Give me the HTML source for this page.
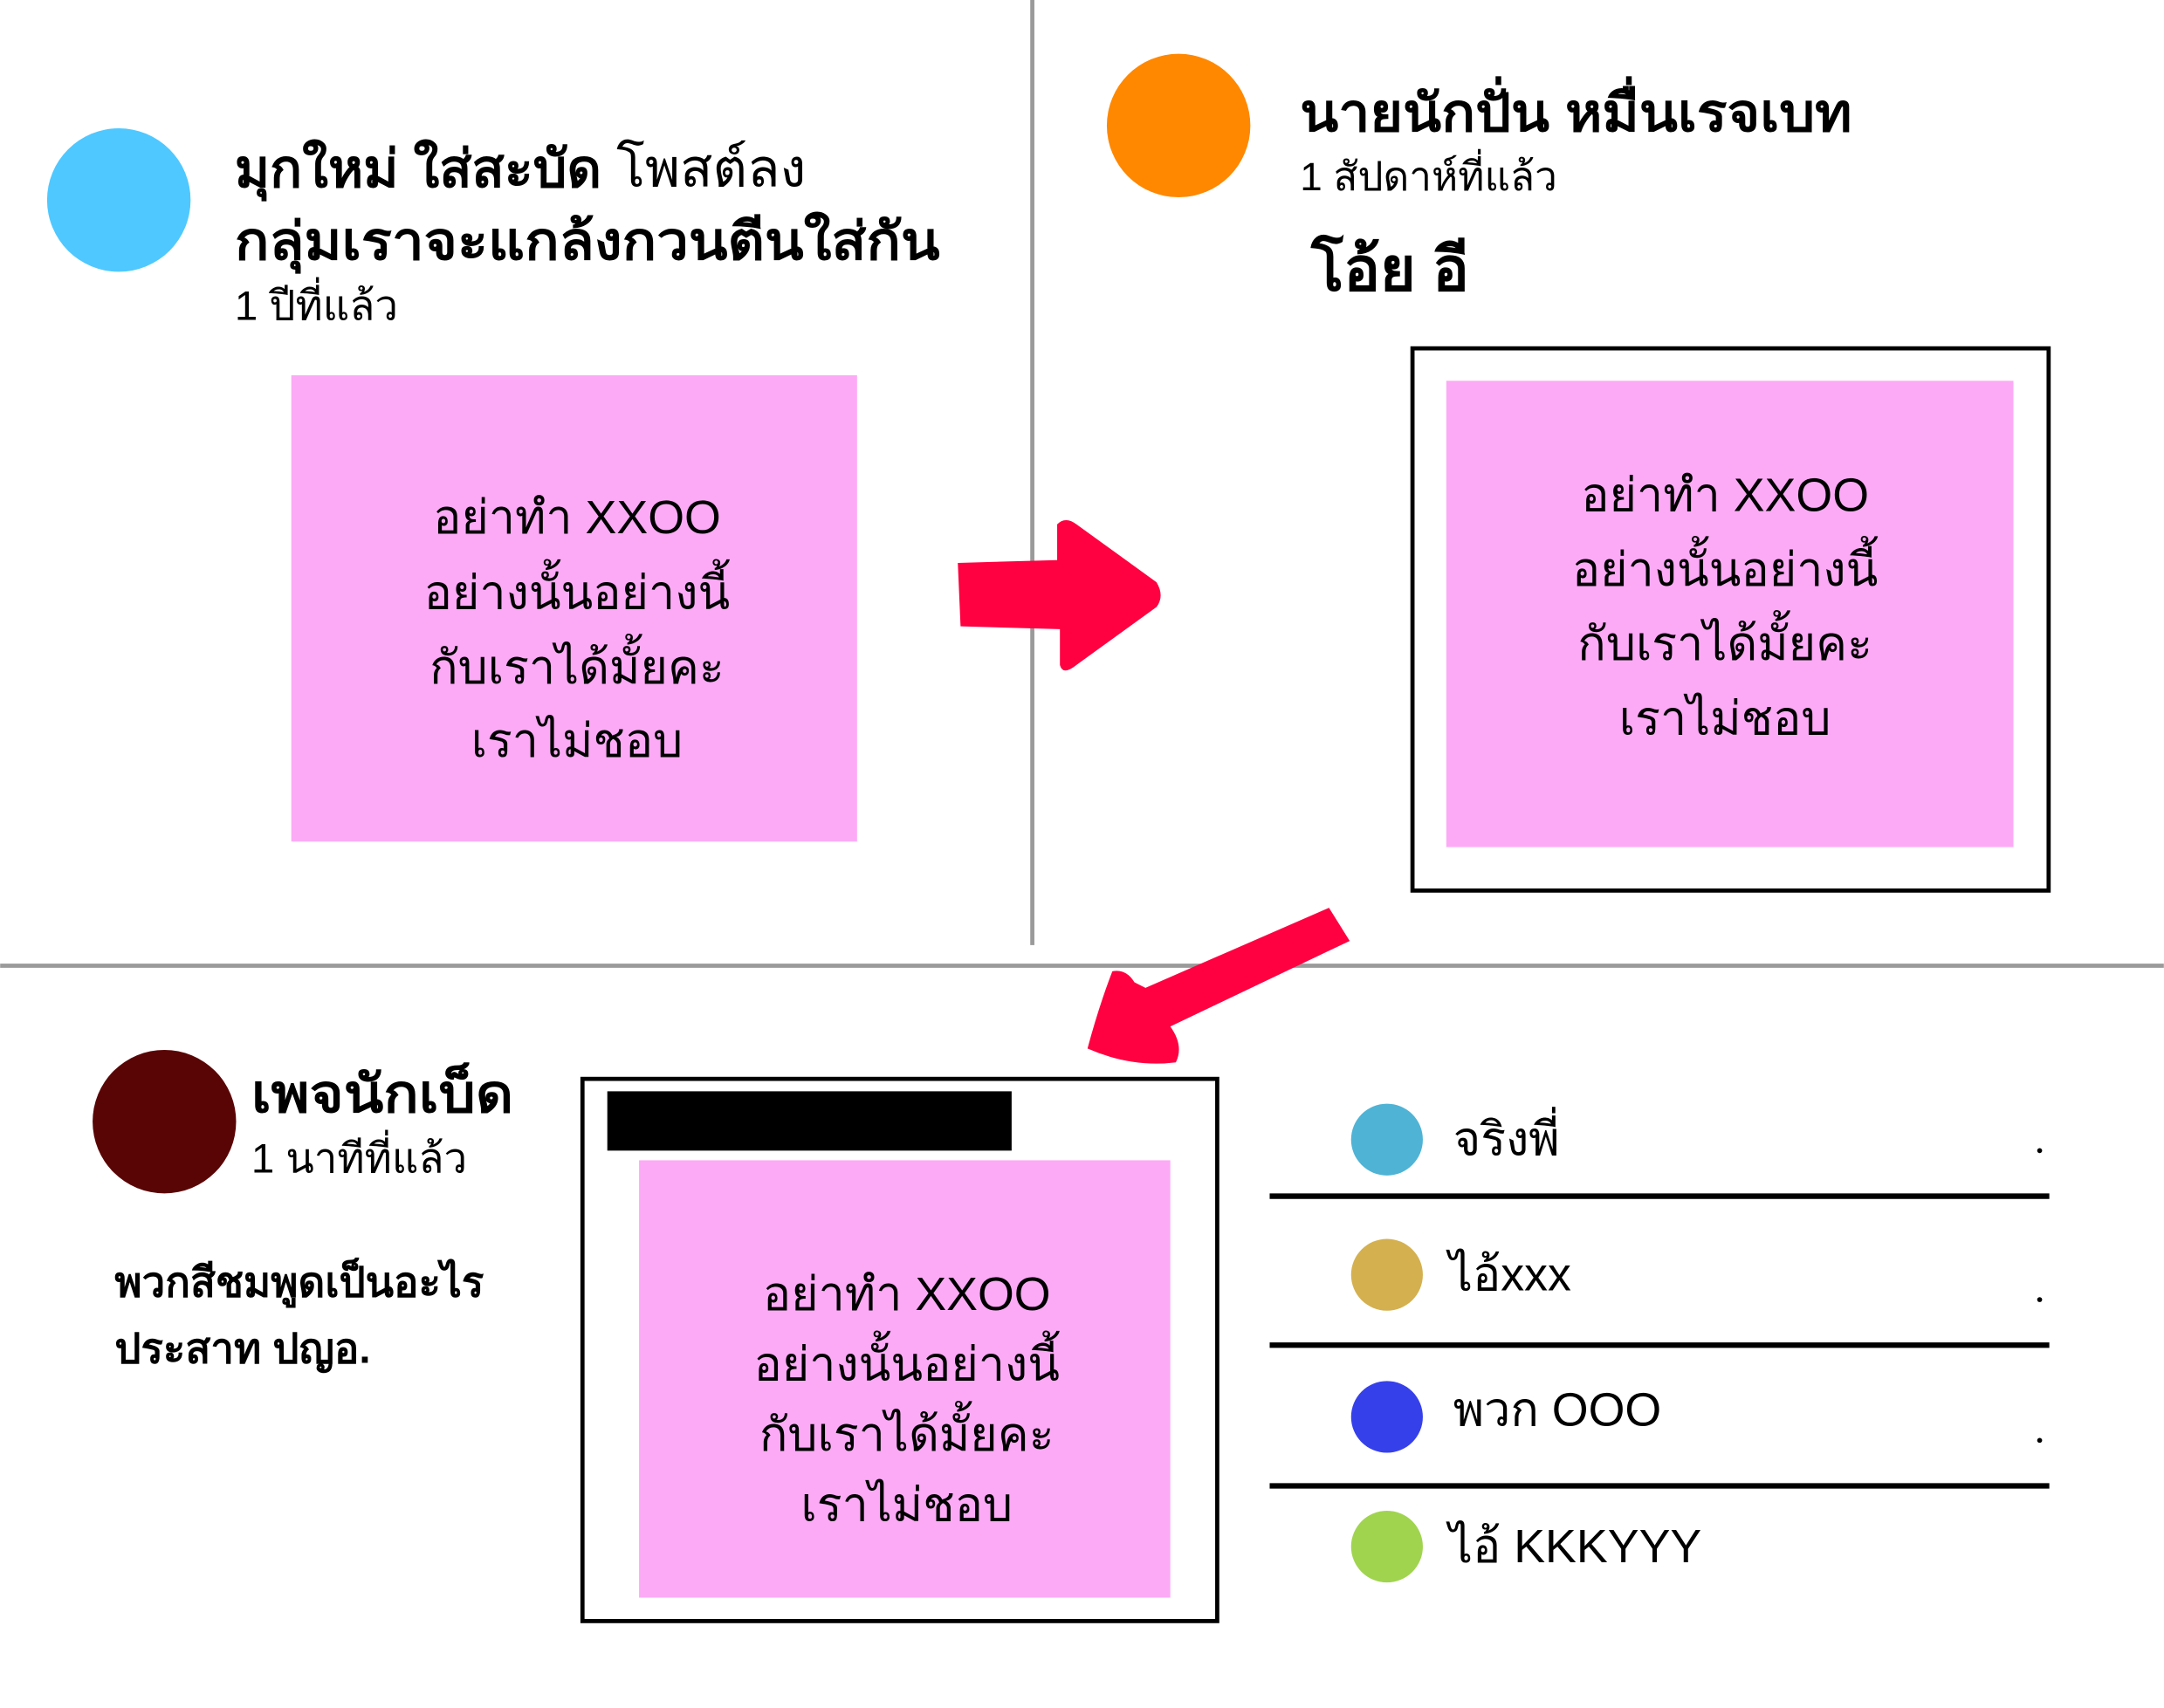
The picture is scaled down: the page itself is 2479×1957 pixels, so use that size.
<!DOCTYPE html>
<html><head><meta charset="utf-8"><style>
html,body{margin:0;padding:0;background:#fff;}
svg{display:block;}
text{font-family:"Liberation Sans","DejaVu Sans",sans-serif;fill:#000;dominant-baseline:central;}
.b{font-weight:bold;}
.c{text-anchor:middle;}
</style></head><body>
<svg width="2479" height="1957" viewBox="0 0 1568 1238" xmlns="http://www.w3.org/2000/svg">
<rect width="1568" height="1238" fill="#fff"/>
<line x1="748" y1="0" x2="748" y2="685" stroke="#9a9a9a" stroke-width="3"/>
<line x1="0" y1="700" x2="1568" y2="700" stroke="#9a9a9a" stroke-width="3"/>

<ellipse cx="86" cy="145" rx="52" ry="52" fill="#4fc8ff"/>
<text x="170" y="122" font-size="38" textLength="414" lengthAdjust="spacingAndGlyphs"><tspan class="b">มุกใหม่ ใส่สะบัด</tspan> โพสต์ลง</text>
<text x="170" y="175" font-size="38" class="b" textLength="511" lengthAdjust="spacingAndGlyphs">กลุ่มเราจะแกล้งกวนตีนใส่กัน</text>
<text x="170" y="222" font-size="30">1 ปีที่แล้ว</text>
<rect x="211" y="272" width="410" height="338" fill="#fcaaf6"/>
<text x="418" y="375" font-size="34" class="c">อย่าทำ XXOO</text>
<text x="418" y="430" font-size="34" class="c">อย่างนั้นอย่างนี้</text>
<text x="418" y="484" font-size="34" class="c">กับเราได้มั้ยคะ</text>
<text x="418" y="537" font-size="34" class="c">เราไม่ชอบ</text>

<path d="M694,408 L766,406 L766,380 Q772,374 780,380 L838,422 Q844,432 838,440 L780,482 Q770,490 768,482 L768,456 L696,454 Z" fill="#ff0040"/>

<circle cx="854" cy="91" r="52" fill="#ff8800"/>
<text x="942" y="82" font-size="38" class="b" textLength="400" lengthAdjust="spacingAndGlyphs">นายนักปั่น หมื่นเรจเบท</text>
<text x="942" y="128" font-size="29">1 สัปดาห์ที่แล้ว</text>
<text x="950" y="195" font-size="44" class="b">โอ้ย อี</text>
<rect x="1023.5" y="252.5" width="461" height="393" fill="none" stroke="#000" stroke-width="3"/>
<rect x="1048" y="276" width="411" height="338" fill="#fcaaf6"/>
<text x="1250" y="359" font-size="34" class="c">อย่าทำ XXOO</text>
<text x="1250" y="413" font-size="34" class="c">อย่างนั้นอย่างนี้</text>
<text x="1250" y="467" font-size="34" class="c">กับเราได้มั้ยคะ</text>
<text x="1250" y="521" font-size="34" class="c">เราไม่ชอบ</text>

<path d="M963,658 L978,682 L848,744 Q858,758 852,770 Q820,774 788,760 Q796,730 806,704 Q816,702 822,712 L830,716 Z" fill="#ff0040"/>

<circle cx="119" cy="813" r="52" fill="#5a0505"/>
<text x="182" y="793" font-size="38" class="b" textLength="190" lengthAdjust="spacingAndGlyphs">เพจนักเบ็ด</text>
<text x="182" y="840" font-size="30">1 นาทีที่แล้ว</text>
<text x="83" y="930" font-size="30" class="b">พวกสีชมพูดเป็นอะไร</text>
<text x="83" y="978" font-size="30" class="b">ประสาท ปญอ.</text>
<rect x="422" y="782" width="460" height="393" fill="none" stroke="#000" stroke-width="3"/>
<rect x="440" y="791" width="293" height="43" fill="#000"/>
<rect x="463" y="841" width="385" height="317" fill="#fcaaf6"/>
<text x="657" y="938" font-size="34" class="c">อย่าทำ XXOO</text>
<text x="657" y="989" font-size="34" class="c">อย่างนั้นอย่างนี้</text>
<text x="657" y="1040" font-size="34" class="c">กับเราได้มั้ยคะ</text>
<text x="657" y="1091" font-size="34" class="c">เราไม่ชอบ</text>

<circle cx="1005" cy="826" r="26" fill="#4fb3d5"/>
<circle cx="1005" cy="924" r="26" fill="#d4b04f"/>
<circle cx="1005" cy="1027" r="26" fill="#3640ea"/>
<circle cx="1005" cy="1121" r="26" fill="#a0d44f"/>
<text x="1053" y="826" font-size="34">จริงพี่</text>
<text x="1050" y="924" font-size="34">ไอ้xxx</text>
<text x="1053" y="1022" font-size="34">พวก OOO</text>
<text x="1050" y="1121" font-size="34">ไอ้ KKKYYY</text>
<line x1="920" y1="867" x2="1485" y2="867" stroke="#000" stroke-width="4"/>
<line x1="920" y1="975" x2="1485" y2="975" stroke="#000" stroke-width="4"/>
<line x1="920" y1="1077" x2="1485" y2="1077" stroke="#000" stroke-width="4"/>
<circle cx="1478" cy="834" r="1.8" fill="#000"/>
<circle cx="1478" cy="942" r="1.8" fill="#000"/>
<circle cx="1478" cy="1044" r="1.8" fill="#000"/>
</svg>
</body></html>
